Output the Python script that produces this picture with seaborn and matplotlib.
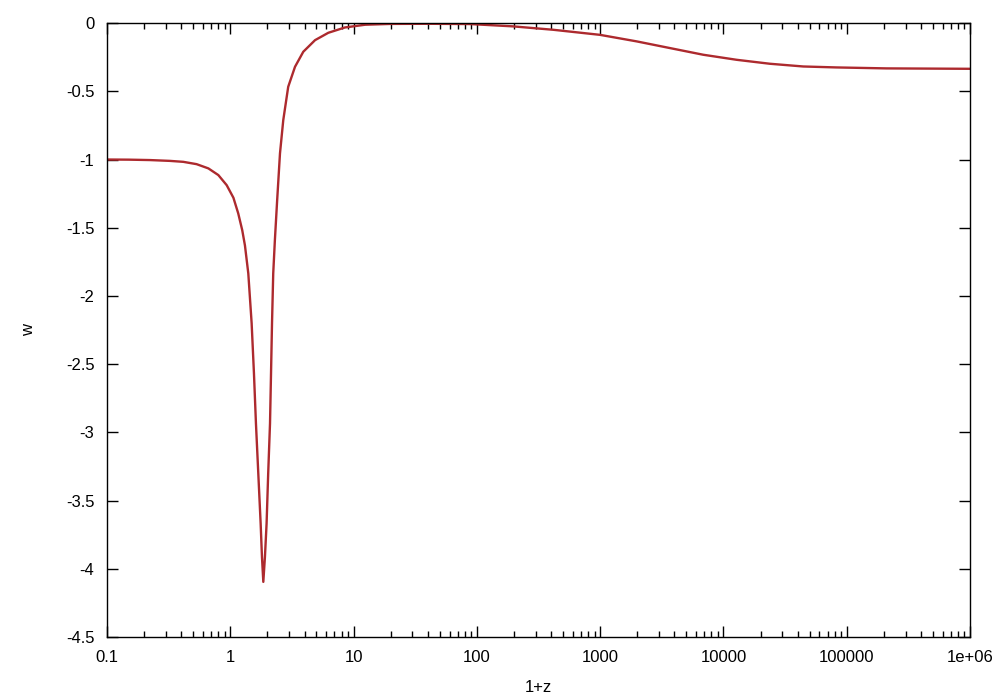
import numpy as np
import pandas as pd
import matplotlib
matplotlib.use("Agg")
import matplotlib.pyplot as plt
import matplotlib.ticker as mticker
import seaborn as sns

# Data
one_plus_z = [0.1, 0.15, 0.223, 0.324, 0.416, 0.533, 0.664, 0.80, 0.935, 1.06, 1.16,
              1.25, 1.315, 1.40, 1.49, 1.556, 1.615, 1.687, 1.763, 1.807, 1.853,
              1.91, 1.97, 2.03, 2.10, 2.14, 2.18, 2.23, 2.30, 2.40, 2.53, 2.69,
              2.95, 3.35, 3.91, 4.87, 6.24, 8.51, 12.4, 20, 40, 88, 197, 417, 995,
              1977, 3680, 6860, 12800, 23800, 44400, 82800, 210000, 1000000]
w = [-1.0, -1.001, -1.004, -1.01, -1.017, -1.034, -1.065, -1.114, -1.188, -1.28, -1.395,
     -1.518, -1.63, -1.835, -2.20, -2.568, -2.935, -3.30, -3.668, -3.913, -4.096,
     -3.913, -3.668, -3.30, -2.935, -2.568, -2.20, -1.835, -1.591, -1.298, -0.955, -0.711,
     -0.467, -0.32, -0.21, -0.125, -0.071, -0.032, -0.012, -0.006, -0.005, -0.007, -0.024,
     -0.049, -0.086, -0.134, -0.183, -0.232, -0.269, -0.298, -0.318, -0.325, -0.332, -0.335]

x_ticks = [0.1, 1, 10, 100, 1000, 10000, 100000, 1000000]
x_tick_labels = ["0.1", "1", "10", "100", "1000", "10000", "100000", "1e+06"]
y_ticks = [0, -0.5, -1, -1.5, -2, -2.5, -3, -3.5, -4, -4.5]
y_tick_labels = ["0", "-0.5", "-1", "-1.5", "-2", "-2.5", "-3", "-3.5", "-4", "-4.5"]

df = pd.DataFrame({"1+z": one_plus_z, "w": w})

sns.set_theme(style="ticks")
plt.rcParams["font.family"] = ["Liberation Sans", "DejaVu Sans"]

fig = plt.figure(figsize=(10, 7), dpi=100)
ax = fig.add_axes([0.107, 0.09, 0.863, 0.877])

sns.lineplot(data=df, x="1+z", y="w", ax=ax, color="#ad2a2e", linewidth=1.7,
             estimator=None, sort=False, solid_joinstyle="round",
             solid_capstyle="round")

ax.set_xscale("log")
ax.set_xlim(0.1, 1e6)
ax.set_ylim(-4.5, 0)
ax.set_xticks(x_ticks)
ax.set_xticklabels(x_tick_labels)
ax.set_yticks(y_ticks)
ax.set_yticklabels(y_tick_labels)
ax.xaxis.set_minor_locator(mticker.LogLocator(base=10, subs=np.arange(2, 10), numticks=100))
ax.xaxis.set_minor_formatter(mticker.NullFormatter())

for s in ax.spines.values():
    s.set_visible(True)
    s.set_color("black")
    s.set_linewidth(1.0)

ax.tick_params(which="major", direction="in", length=8, width=1, color="black",
               top=True, right=True, labelsize=12, pad=9, labelcolor="black")
ax.tick_params(which="minor", direction="in", length=4, width=1, color="black",
               top=True, right=True)

ax.set_xlabel("1+z", fontsize=12, color="black")
ax.set_ylabel("w", fontsize=12, color="black")
ax.xaxis.set_label_coords(0.5, -0.083)
ax.xaxis.label.set_va("center")
ax.yaxis.set_label_coords(-0.0915, 0.5)
ax.yaxis.label.set_va("center")
ax.grid(False)

fig.savefig("out.png", dpi=100)
